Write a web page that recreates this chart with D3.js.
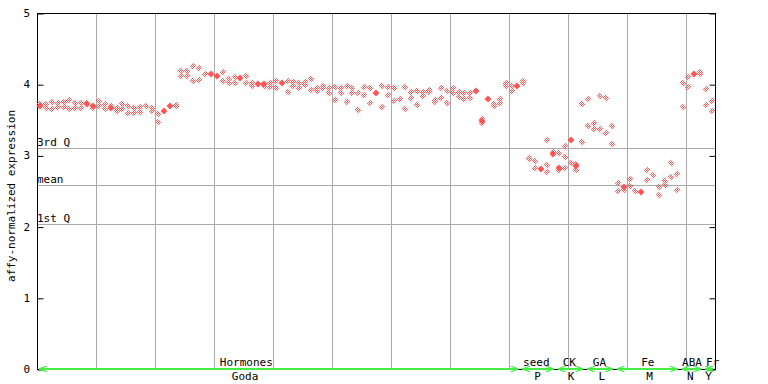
<!DOCTYPE html>
<html>
<head>
<meta charset="utf-8">
<script src="https://cdn.jsdelivr.net/npm/d3@7"></script>
<style>
  body { margin: 0; background: #fff; }
  svg text { font-family: "DejaVu Sans Mono", monospace; font-size: 11px; fill: #000; }
</style>
</head>
<body>
<svg id="chart" width="768" height="384"></svg>
<script>
// replicate values per sample (null = no point)
const hiRep = [
  3.72, 3.72, 3.75, 3.73, 3.75, 3.78, 3.73, 3.73, 3.74, 3.67,
  3.76, 3.72, 3.69, 3.66, 3.72, 3.69, 3.66, 3.68, 3.70, 3.66,
  3.58, null, null, 3.71, 4.19, 4.19, 4.25, 4.23, 4.14, null,
  null, 4.17, 4.08, 4.10, null, 4.11, 4.01, null, 3.97, 4.01,
  4.04, null, 4.04, 4.03, 4.01, 4.03, 4.08, 3.95, 3.98, 3.95,
  3.96, 3.94, 3.97, 3.95, 3.87, 3.96, 3.95, null, 3.97, 3.96,
  3.95, 3.79, 3.96, 3.89, 3.90, 3.89, 3.92, 3.78, 3.95, 3.90,
  3.95, 3.89, 3.87, 3.87, null, 3.51, null, 3.72, 3.79, 4.01,
  3.98, null, 4.05, 2.97, 2.92, null, 3.22, 3.05, 3.04, 3.13,
  2.90, 2.88, 3.72, 3.79, 3.45, 3.84, 3.80, 3.41, 2.61, 2.52,
  2.67, 2.50, null, 2.80, 2.72, 2.55, 2.64, 2.89, 2.74, 4.01,
  4.10, null, 4.17, 3.93, 3.76
];
const loRep = [
  null, 3.66, 3.65, 3.68, 3.68, 3.65, 3.66, 3.66, null, null,
  3.70, 3.65, null, 3.63, 3.65, 3.59, 3.59, 3.61, null, 3.63,
  3.47, null, null, 3.69, 4.12, 4.12, 4.04, 4.06, null, null,
  null, 4.04, 4.01, 4.01, null, 4.02, 3.97, null, null, 3.96,
  3.95, null, 3.89, 3.97, 3.95, 3.99, 3.92, 3.91, 3.95, 3.87,
  3.78, 3.87, 3.75, 3.87, 3.64, 3.85, 3.73, null, 3.68, 3.85,
  3.76, null, 3.65, 3.80, 3.71, 3.83, 3.89, 3.75, 3.80, 3.73,
  3.87, 3.82, 3.79, 3.80, null, 3.46, null, 3.69, 3.73, 3.97,
  3.91, null, 4.02, 2.95, 2.83, null, 2.87, null, 2.80, 2.98,
  null, 2.80, 3.19, 3.41, 3.37, 3.37, 3.31, 3.16, 2.50, null,
  2.57, null, null, 2.65, null, 2.45, 2.58, 2.69, 2.51, 3.68,
  3.96, null, 4.15, 3.71, 3.62
];
const extraIdx = [86, 89];
const extraVal = [2.76, 2.82];
const solidIdx = [0, 8, 9, 12, 21, 22, 29, 30, 34, 37, 38, 41, 57, 74, 75, 76, 81, 85, 87, 88, 90, 91, 99, 102, 111];
const solidVal = [3.70, 3.72, 3.69, 3.67, 3.62, 3.69, 4.15, 4.12, 4.09, 4.00, 4.00, 4.01, 3.87, 3.90, 3.49, 3.79, 3.98, 2.81, 3.02, 2.83, 3.21, 2.85, 2.55, 2.49, 4.14];

const statNames = ['3rd Q', 'mean', '1st Q'];
const statVals = [3.11, 2.59, 2.04];
const yTicks = [0, 1, 2, 3, 4, 5];

// experiment groups: first and last sample
const groupTop = ['Hormones', 'seed', 'CK', 'GA', 'Fe', 'ABA', 'Fr'];
const groupSub = ['Goda', 'P', 'K', 'L', 'M', 'N', 'Y'];
const groupFrom = [0, 82, 88, 93, 98, 109, 113];
const groupTo = [81, 87, 92, 97, 108, 112, 114];
const topLabelAt = [35, 84.2, 89.8, 94.9, 103.1, 110.6, 114.1];
const subLabelAt = [34.8, 84.4, 90.1, 95.3, 103.4, 110.3, 113.4];

const nSamples = hiRep.length;
const mLeft = 37, mRight = 715, mTop = 13, mBottom = 369;
const red = '#ff5555';
const green = '#44ee44';

const svg = d3.select('#chart');

const x = d3.scaleBand()
  .domain(d3.range(nSamples))
  .range([mLeft, mRight]);
const xc = (i) => Math.round(x(i) + x.bandwidth() / 2);

const y = d3.scaleLinear()
  .domain([0, 5])
  .range([mBottom, mTop]);

const defs = svg.append('defs');
const pat = defs.append('pattern')
  .attr('id', 'chk')
  .attr('patternUnits', 'userSpaceOnUse')
  .attr('width', 2)
  .attr('height', 2);
pat.append('rect').attr('x', 0).attr('y', 0).attr('width', 1).attr('height', 1).attr('fill', red);
pat.append('rect').attr('x', 1).attr('y', 1).attr('width', 1).attr('height', 1).attr('fill', red);

const arrow = (id, refX, d) => defs.append('marker')
  .attr('id', id)
  .attr('viewBox', '0 0 8 6')
  .attr('refX', refX)
  .attr('refY', 3)
  .attr('markerWidth', 8)
  .attr('markerHeight', 6)
  .attr('markerUnits', 'userSpaceOnUse')
  .attr('orient', 'auto')
  .append('path')
  .attr('d', d)
  .attr('fill', 'none')
  .attr('stroke', green)
  .attr('stroke-width', 1.2);
arrow('arrR', 8, 'M0,0 L8,3 L0,6');
arrow('arrL', 0, 'M8,0 L0,3 L8,6');

// grid
const grid = svg.append('g').attr('stroke', '#aaa').attr('stroke-width', 1);
grid.selectAll('line.v')
  .data(d3.range(10, nSamples, 10))
  .enter()
  .append('line')
  .attr('class', 'v')
  .attr('x1', (d) => Math.round(x(d)) + 0.5)
  .attr('x2', (d) => Math.round(x(d)) + 0.5)
  .attr('y1', mTop)
  .attr('y2', mBottom);
grid.selectAll('line.h')
  .data(statVals)
  .enter()
  .append('line')
  .attr('class', 'h')
  .attr('x1', mLeft)
  .attr('x2', mRight)
  .attr('y1', (d) => Math.round(y(d)) + 0.5)
  .attr('y2', (d) => Math.round(y(d)) + 0.5);

svg.append('g')
  .selectAll('text')
  .data(statNames)
  .enter()
  .append('text')
  .attr('x', mLeft)
  .attr('y', (d, i) => Math.round(y(statVals[i])) - 2)
  .text((d) => d);

// frame
svg.append('rect')
  .attr('x', mLeft + 0.5)
  .attr('y', mTop + 0.5)
  .attr('width', mRight - mLeft)
  .attr('height', mBottom - mTop)
  .attr('fill', 'none')
  .attr('stroke', '#000');

const leftAxis = d3.axisRight(y).tickValues(yTicks).tickSize(6).tickFormat('');
svg.append('g')
  .attr('transform', `translate(${mLeft + 0.5}, 0.5)`)
  .call(leftAxis)
  .call((g) => g.select('.domain').remove());
const rightAxis = d3.axisLeft(y).tickValues(yTicks).tickSize(6).tickFormat('');
svg.append('g')
  .attr('transform', `translate(${mRight + 0.5}, 0.5)`)
  .call(rightAxis)
  .call((g) => g.select('.domain').remove());

svg.append('g')
  .selectAll('text')
  .data(yTicks)
  .enter()
  .append('text')
  .attr('x', 30)
  .attr('y', (d) => y(d) + 4)
  .attr('text-anchor', 'end')
  .text((d) => d);

svg.append('text')
  .attr('transform', `translate(15, ${(mTop + mBottom) / 2 + 5}) rotate(-90)`)
  .attr('text-anchor', 'middle')
  .text('affy-normalized expression');

// points
const diamond = (cx, cy, r) => `M${cx},${cy - r}L${cx + r},${cy}L${cx},${cy + r}L${cx - r},${cy}Z`;
const open = [];
hiRep.forEach((v, i) => { if (v !== null) open.push([i, v]); });
loRep.forEach((v, i) => { if (v !== null) open.push([i, v]); });
extraIdx.forEach((i, j) => open.push([i, extraVal[j]]));

svg.append('g')
  .selectAll('path')
  .data(open)
  .enter()
  .append('path')
  .attr('d', (d) => diamond(xc(d[0]), Math.round(y(d[1])), 3.5))
  .attr('fill', 'url(#chk)');

svg.append('g')
  .selectAll('path')
  .data(solidIdx)
  .enter()
  .append('path')
  .attr('d', (d, i) => diamond(xc(d), Math.round(y(solidVal[i])), 3.5))
  .attr('fill', red);

// group bars along the bottom
const gb = svg.append('g');
gb.selectAll('line')
  .data(groupFrom)
  .enter()
  .append('line')
  .attr('x1', (d) => x(d) + 2)
  .attr('x2', (d, i) => x(groupTo[i]) + x.bandwidth() - 2)
  .attr('y1', mBottom)
  .attr('y2', mBottom)
  .attr('stroke', green)
  .attr('stroke-width', 2)
  .attr('marker-start', 'url(#arrL)')
  .attr('marker-end', 'url(#arrR)');

const atX = (v) => x(0) + (v + 0.5) * x.bandwidth();
gb.selectAll('text.top')
  .data(groupTop)
  .enter()
  .append('text')
  .attr('class', 'top')
  .attr('x', (d, i) => atX(topLabelAt[i]))
  .attr('y', mBottom - 3)
  .attr('text-anchor', 'middle')
  .text((d) => d);
gb.selectAll('text.sub')
  .data(groupSub)
  .enter()
  .append('text')
  .attr('class', 'sub')
  .attr('x', (d, i) => atX(subLabelAt[i]))
  .attr('y', mBottom + 11)
  .attr('text-anchor', 'middle')
  .text((d) => d);
</script>
</body>
</html>
